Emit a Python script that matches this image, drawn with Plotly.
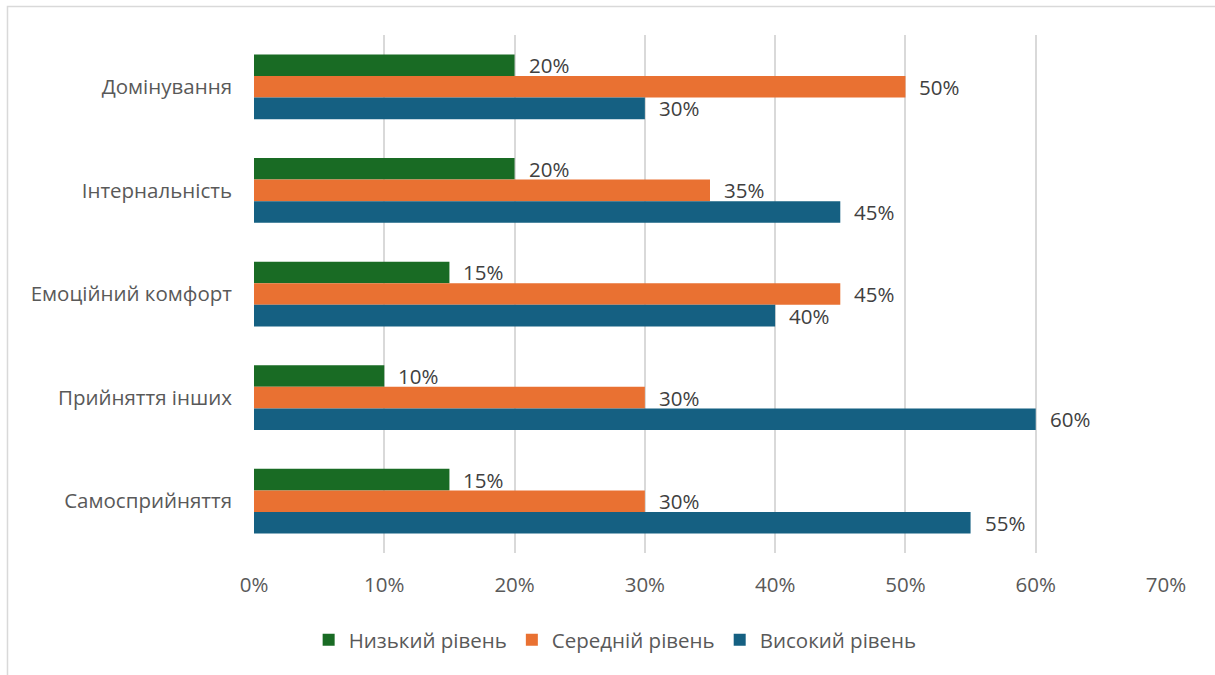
import plotly.graph_objects as go

# Шкали та рівні
categories = ["Домінування", "Інтернальність", "Емоційний комфорт",
              "Прийняття інших", "Самосприйняття"]
series_names = ["Низький рівень", "Середній рівень", "Високий рівень"]
low_vals = [0.20, 0.20, 0.15, 0.10, 0.15]
mid_vals = [0.50, 0.35, 0.45, 0.30, 0.30]
high_vals = [0.30, 0.45, 0.40, 0.60, 0.55]
x_ticks = [0, 0.1, 0.2, 0.3, 0.4, 0.5, 0.6, 0.7]
x_tick_labels = ["0%", "10%", "20%", "30%", "40%", "50%", "60%", "70%"]

colors = ["#196B24", "#E97132", "#156082"]
FONT = "Open Sans"
GREY = "#595959"
FS = 20.5
BARGAP = 0.375

fig = go.Figure()
all_vals = [low_vals, mid_vals, high_vals]
for name, vals, col in zip(series_names, all_vals, colors):
    fig.add_trace(go.Bar(
        y=categories, x=vals, name=name, orientation="h",
        marker=dict(color=col, line=dict(width=0)),
    ))

# Підписи значень праворуч від кожного стовпчика
n = len(all_vals)
bar_w = (1 - BARGAP) / n
for k, vals in enumerate(all_vals):
    for i, v in enumerate(vals):
        fig.add_annotation(
            x=v, y=i + (k - (n - 1) / 2) * bar_w,
            xref="x", yref="y", text=f"{round(v * 100)}%",
            showarrow=False, xanchor="left", yanchor="middle", xshift=12,
            font=dict(family=FONT, size=FS, color="#404040"),
        )

# Рамка області діаграми
fig.add_shape(type="rect", xref="paper", yref="paper",
              x0=-0.2703, x1=1.2, y0=-0.5, y1=1.055,
              line=dict(color="#D9D9D9", width=1.5), layer="below")

fig.update_layout(
    width=1215, height=675,
    margin=dict(l=254, r=49, t=35, b=122),
    paper_bgcolor="white", plot_bgcolor="white",
    barmode="group", bargap=BARGAP, bargroupgap=0,
    font=dict(family=FONT, size=FS, color=GREY),
    legend=dict(orientation="h", x=0.396, xanchor="center",
                y=-0.168, yanchor="middle",
                font=dict(family=FONT, size=FS, color=GREY),
                itemwidth=30, tracegroupgap=0),
    xaxis=dict(range=[0, 0.7], tickvals=x_ticks, ticktext=x_tick_labels,
               showgrid=True, gridcolor="#D9D9D9", gridwidth=1.5,
               zeroline=False, showline=False, ticks="",
               ticklabelstandoff=17,
               tickfont=dict(family=FONT, size=FS, color=GREY)),
    yaxis=dict(autorange="reversed", showgrid=False, showline=False,
               ticks="", ticklabelstandoff=21,
               tickfont=dict(family=FONT, size=FS, color=GREY)),
    showlegend=True,
)

fig.write_html("out.html")
